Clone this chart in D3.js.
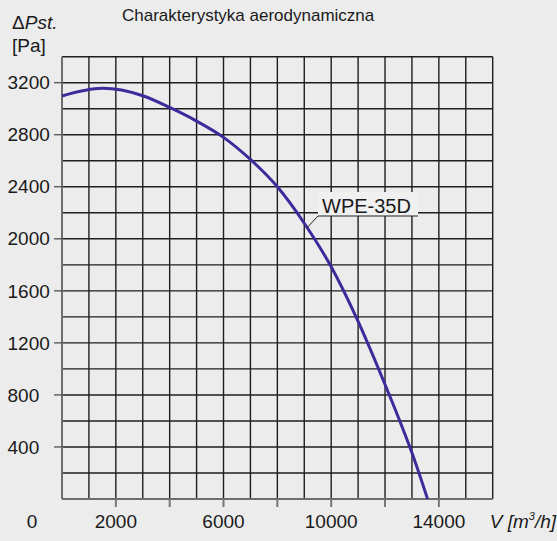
<!DOCTYPE html>
<html>
<head>
<meta charset="utf-8">
<script src="https://cdn.jsdelivr.net/npm/d3@7"></script>
<style>
  html, body { margin: 0; padding: 0; background: #ececec; }
  svg { display: block; font-family: "Liberation Sans", Arial, sans-serif; }
</style>
</head>
<body>
<div id="chart"></div>
<script>
/* curve: flow V [m3/h] and static pressure [Pa] */
const flow = [0, 1500, 3000, 4000, 5000, 6000, 7000, 8000, 9000, 10000, 11000, 12000, 12500, 13000, 13580]
const pressure = [3098, 3157, 3100, 3010, 2905, 2780, 2610, 2400, 2120, 1785, 1365, 880, 625, 355, 0]
const xLabels = [0, 2000, 6000, 10000, 14000]
const yLabels = [400, 800, 1200, 1600, 2000, 2400, 2800, 3200]
const seriesName = 'WPE-35D'
const labelAnchor = [9100, 2085]

const width = 557
const height = 541

const svg = d3.select('#chart')
  .append('svg')
  .attr('width', width)
  .attr('height', height)

svg.append('rect')
  .attr('width', width)
  .attr('height', height)
  .attr('fill', '#ececec')

const x = d3.scaleLinear().domain([0, 16000]).range([62, 492.7])
const y = d3.scaleLinear().domain([0, 3400]).range([499, 56.7])

/* grid: every 1000 m3/h and every 200 Pa */
const grid = svg.append('g')
grid.selectAll('line.v')
  .data(d3.range(1000, 16001, 1000))
  .enter().append('line')
  .attr('x1', d => x(d)).attr('x2', d => x(d))
  .attr('y1', y(0)).attr('y2', y(3400))
  .attr('stroke', '#1e1e1e')
  .attr('stroke-width', 1.4)

grid.selectAll('line.h')
  .data(d3.range(200, 3401, 200))
  .enter().append('line')
  .attr('x1', x(0)).attr('x2', x(16000))
  .attr('y1', d => y(d)).attr('y2', d => y(d))
  .attr('stroke', '#1e1e1e')
  .attr('stroke-width', 1.4)

// left and bottom frame (grey, a bit heavier)
svg.append('line')
  .attr('x1', x(0)).attr('x2', x(0))
  .attr('y1', y(0)).attr('y2', y(3400))
  .attr('stroke', '#6e6e6e').attr('stroke-width', 2)
svg.append('line')
  .attr('x1', x(0)).attr('x2', x(16000))
  .attr('y1', y(0)).attr('y2', y(0))
  .attr('stroke', '#6e6e6e').attr('stroke-width', 2)

/* tick marks */
svg.selectAll('line.yt')
  .data(yLabels)
  .enter().append('line')
  .attr('x1', x(0) - 8).attr('x2', x(0))
  .attr('y1', d => y(d)).attr('y2', d => y(d))
  .attr('stroke', '#444').attr('stroke-width', 1.2)

svg.selectAll('line.xt')
  .data(d3.range(2000, 14001, 2000))
  .enter().append('line')
  .attr('x1', d => x(d)).attr('x2', d => x(d))
  .attr('y1', y(0)).attr('y2', y(0) + 8)
  .attr('stroke', '#777').attr('stroke-width', 2)

/* tick labels */
svg.selectAll('text.yl')
  .data(yLabels)
  .enter().append('text')
  .attr('x', 7.5)
  .attr('y', d => y(d))
  .attr('dy', '0.35em')
  .attr('font-size', 19)
  .attr('fill', '#1a1a1a')
  .text(d => d)

svg.selectAll('text.xl')
  .data(xLabels)
  .enter().append('text')
  .attr('x', d => d === 0 ? x(0) - 30 : x(d))
  .attr('y', 528)
  .attr('text-anchor', 'middle')
  .attr('font-size', 19)
  .attr('fill', '#1a1a1a')
  .text(d => d)

/* axis titles */
const xt = svg.append('text')
  .attr('x', 556)
  .attr('y', 528)
  .attr('text-anchor', 'end')
  .attr('font-size', 19)
  .attr('font-style', 'italic')
  .attr('fill', '#1a1a1a')
xt.append('tspan').text('V [m')
xt.append('tspan').attr('font-size', 11).attr('dy', -8).text('3')
xt.append('tspan').attr('dy', 8).text('/h]')

const yt = svg.append('text')
  .attr('x', 12)
  .attr('y', 29)
  .attr('font-size', 19)
  .attr('fill', '#1a1a1a')
yt.append('tspan').text('\u0394')
yt.append('tspan').attr('font-style', 'italic').text('Pst.')

svg.append('text')
  .attr('x', 12)
  .attr('y', 52)
  .attr('font-size', 19)
  .attr('fill', '#1a1a1a')
  .text('[Pa]')

svg.append('text')
  .attr('x', 122)
  .attr('y', 21)
  .attr('font-size', 17)
  .attr('fill', '#1a1a1a')
  .text('Charakterystyka aerodynamiczna')

/* the curve */
const pts = flow.map((v, i) => [v, pressure[i]])
const line = d3.line()
  .x(d => x(d[0]))
  .y(d => y(d[1]))
  .curve(d3.curveMonotoneX)

svg.append('path')
  .datum(pts)
  .attr('d', line)
  .attr('fill', 'none')
  .attr('stroke', '#3b2c9c')
  .attr('stroke-width', 3)

/* series label with leader */
const lx = 318, ly = 216
svg.append('rect')
  .attr('x', lx).attr('y', 192)
  .attr('width', 100).attr('height', ly - 192)
  .attr('fill', '#f0f0f0')
svg.append('path')
  .attr('d', `M${x(labelAnchor[0])},${y(labelAnchor[1])}L${lx},${ly}L${lx + 100},${ly}`)
  .attr('fill', 'none')
  .attr('stroke', '#222')
  .attr('stroke-width', 1)
svg.append('text')
  .attr('x', 322)
  .attr('y', 213)
  .attr('font-size', 20)
  .attr('fill', '#1a1a1a')
  .text(seriesName)
</script>
</body>
</html>
